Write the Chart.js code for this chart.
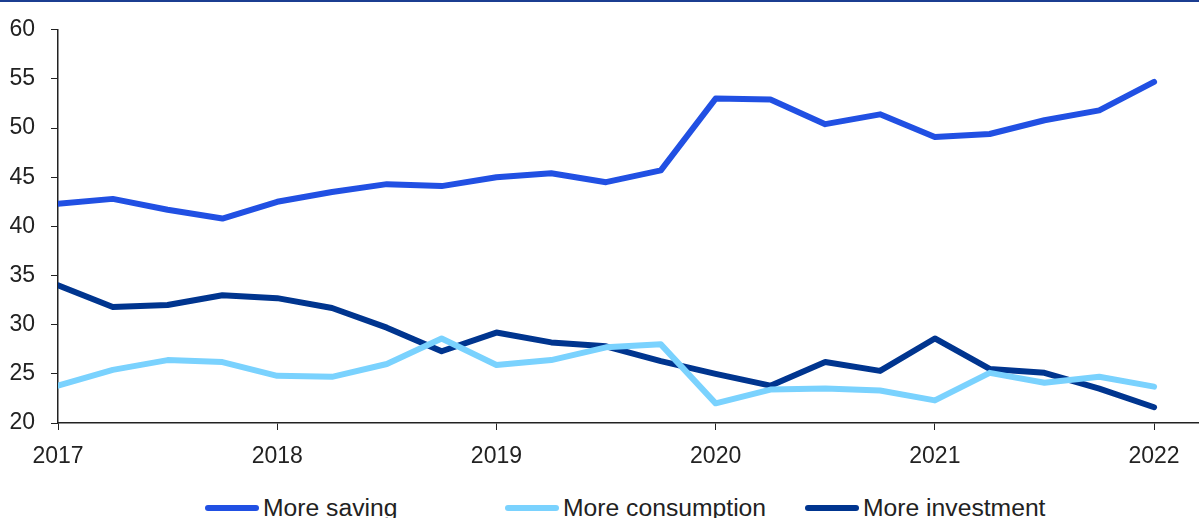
<!DOCTYPE html>
<html>
<head>
<meta charset="utf-8">
<script src="https://cdn.jsdelivr.net/npm/chart.js@4.4.1/dist/chart.umd.min.js"></script>
<style>
  html, body { margin: 0; padding: 0; background: #fff; }
  body { width: 1199px; height: 518px; overflow: hidden; position: relative; font-family: "Liberation Sans", Arial, sans-serif; }
  .top-rule { position: absolute; left: 0; top: 0; width: 1199px; height: 2px; background: #1b3d91; }
  .wrap { position: absolute; left: 0; top: 0; width: 1199px; height: 490px; }
  .legend { position: absolute; top: 494px; left: 0; width: 1199px; height: 40px; }
  .legend-item { position: absolute; display: flex; align-items: center; font-size: 24.7px; color: #222; white-space: nowrap; }
  .legend-item .swatch { width: 54px; height: 6px; border-radius: 3px; margin-right: 4px; }
</style>
</head>
<body>
<div class="top-rule"></div>
<div class="wrap"><canvas id="chart"></canvas></div>
<div class="legend" id="legend"></div>
<script>
// quarterly survey, share of respondents (%)
const quarters = [2017, 2017.25, 2017.5, 2017.75, 2018, 2018.25, 2018.5, 2018.75,
                  2019, 2019.25, 2019.5, 2019.75, 2020, 2020.25, 2020.5, 2020.75,
                  2021, 2021.25, 2021.5, 2021.75, 2022];
const yearTicks = [2017, 2018, 2019, 2020, 2021, 2022];

const moreSaving = [42.3, 42.8, 41.7, 40.8, 42.5, 43.5, 44.3, 44.1, 45.0, 45.4, 44.5,
                    45.7, 53.0, 52.9, 50.4, 51.4, 49.1, 49.4, 50.8, 51.8, 54.7];
const moreConsumption = [23.8, 25.4, 26.4, 26.2, 24.8, 24.7, 26.0, 28.6, 25.9, 26.4, 27.7,
                         28.0, 22.0, 23.4, 23.5, 23.3, 22.3, 25.1, 24.1, 24.7, 23.7];
const moreInvestment = [34.0, 31.8, 32.0, 33.0, 32.7, 31.7, 29.7, 27.3, 29.2, 28.2, 27.8,
                        26.3, 25.0, 23.8, 26.2, 25.3, 28.6, 25.5, 25.1, 23.5, 21.6];

const series = [
  { label: 'More saving', data: moreSaving, color: '#2150e3', left: 205 },
  { label: 'More consumption', data: moreConsumption, color: '#7ad2fe', left: 505 },
  { label: 'More investment', data: moreInvestment, color: '#00358f', left: 805 }
];

const tickFont = { family: '"Liberation Sans", Arial, sans-serif', size: 23 };

new Chart(document.getElementById('chart'), {
  type: 'line',
  data: {
    datasets: series.map(s => ({
      label: s.label,
      data: s.data.map((v, i) => ({ x: quarters[i], y: v })),
      borderColor: s.color,
      backgroundColor: s.color,
      borderWidth: 6,
      pointRadius: 0,
      borderCapStyle: 'round',
      borderJoinStyle: 'round',
      tension: 0
    }))
  },
  options: {
    responsive: true,
    maintainAspectRatio: false,
    animation: false,
    layout: { padding: { top: 29, right: 0, bottom: 0, left: 0 } },
    plugins: { legend: { display: false }, tooltip: { enabled: false } },
    scales: {
      x: {
        type: 'linear',
        min: 2017,
        max: 2022.205,
        afterBuildTicks: scale => { scale.ticks = yearTicks.map(v => ({ value: v })); },
        afterFit: scale => { scale.height = 67; },
        grid: { display: true, drawOnChartArea: false, drawTicks: true, tickLength: 7, color: '#222', lineWidth: 1 },
        border: { display: true, color: '#222', width: 1.5 },
        ticks: { color: '#222', font: tickFont, padding: 13, maxRotation: 0, callback: v => String(v) }
      },
      y: {
        min: 20,
        max: 60,
        afterFit: scale => { scale.width = 58; },
        grid: { display: true, drawOnChartArea: false, drawTicks: true, tickLength: 7, color: '#222', lineWidth: 1 },
        border: { display: true, color: '#222', width: 1.5 },
        ticks: { stepSize: 5, color: '#222', font: tickFont, padding: 16 }
      }
    }
  }
});

// legend row along the bottom
const legend = document.getElementById('legend');
series.forEach(s => {
  const item = document.createElement('div');
  item.className = 'legend-item';
  item.style.left = s.left + 'px';
  item.innerHTML = `<span class="swatch" style="background:${s.color}"></span><span>${s.label}</span>`;
  legend.appendChild(item);
});
</script>
</body>
</html>
